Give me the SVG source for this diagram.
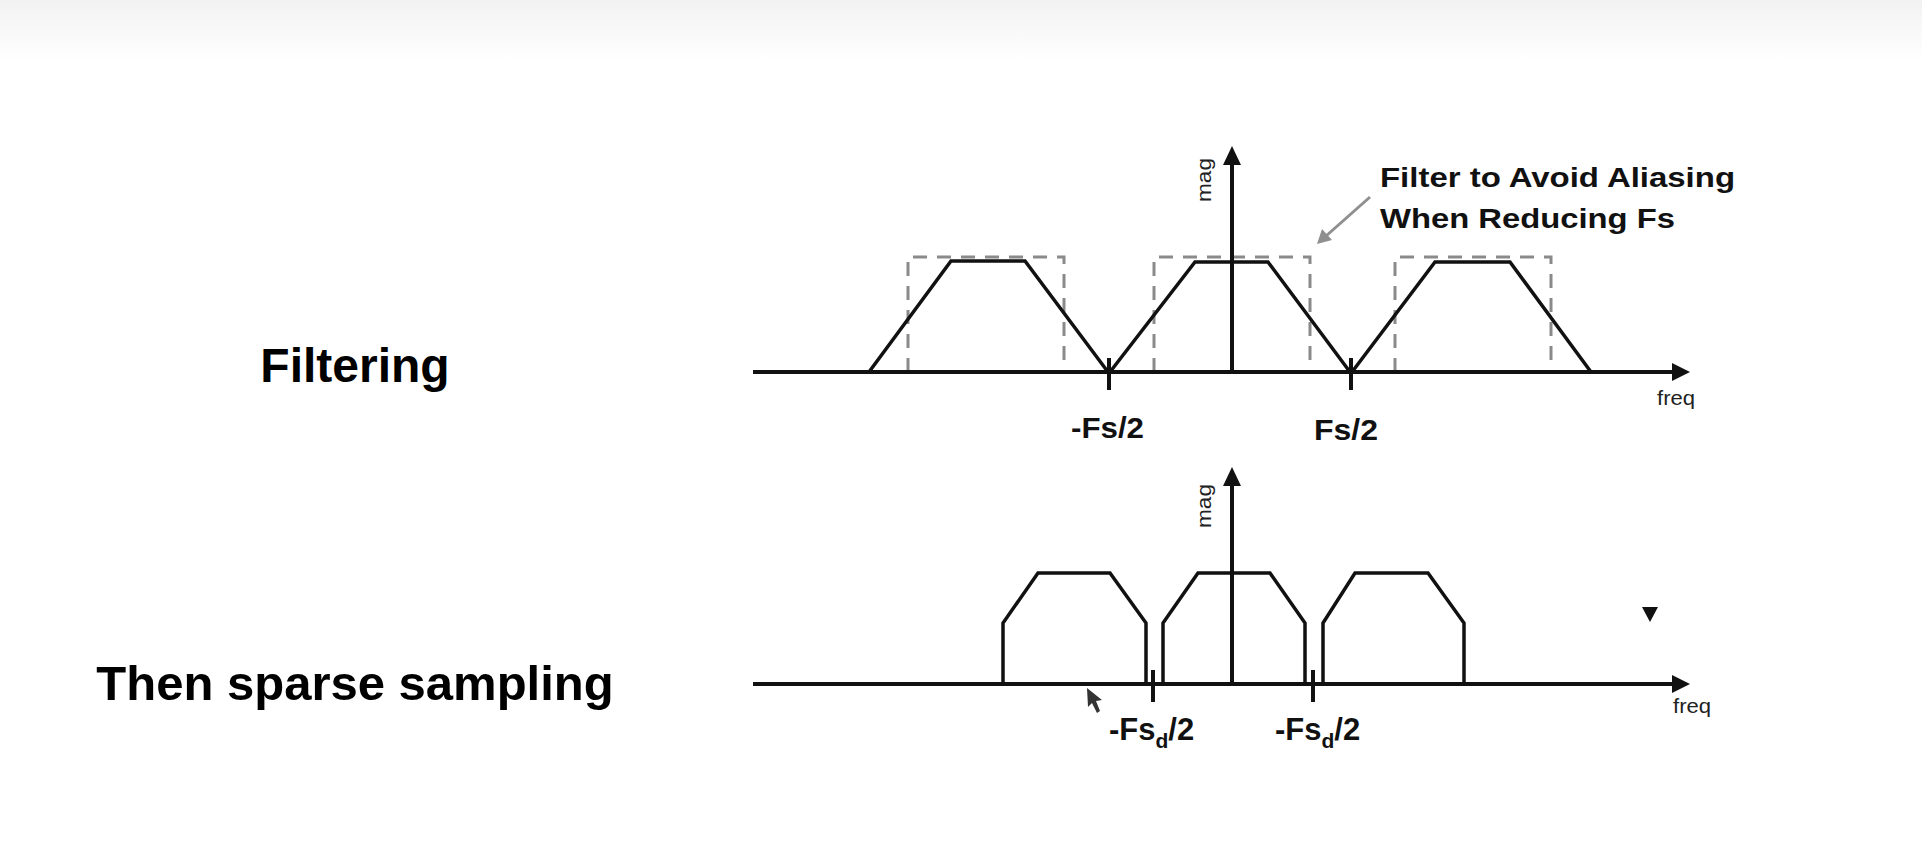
<svg xmlns="http://www.w3.org/2000/svg" width="1922" height="867" viewBox="0 0 1922 867">
<defs>
<linearGradient id="topband" x1="0" y1="0" x2="0" y2="1">
<stop offset="0" stop-color="#f2f2f2"/>
<stop offset="1" stop-color="#ffffff"/>
</linearGradient>
<style>
.axis{stroke:#111;stroke-width:4;fill:none}
.tick{stroke:#111;stroke-width:4;fill:none}
.curve{stroke:#111;stroke-width:3.5;fill:none;stroke-linejoin:miter}
.dash{stroke:#8a8a8a;stroke-width:3;fill:none;stroke-dasharray:14 10}
.head{fill:#111}
.big{font-family:"Liberation Sans",Arial,sans-serif;font-weight:bold;fill:#000}
.lbl{font-family:"Liberation Sans",Arial,sans-serif;font-weight:bold;fill:#111}
.ann{font-family:"Liberation Sans",Arial,sans-serif;font-weight:bold;font-size:28px;fill:#111}
.small{font-family:"Liberation Sans",Arial,sans-serif;font-size:20px;fill:#222}
</style>
</defs>
<rect x="0" y="0" width="1922" height="867" fill="#ffffff"/>
<rect x="0" y="0" width="1922" height="60" fill="url(#topband)"/>

<g id="title-filtering">
<text class="big" x="355" y="382" text-anchor="middle" font-size="48">Filtering</text>
</g>
<g id="title-sparse">
<text class="big" x="355" y="700" text-anchor="middle" font-size="49">Then sparse sampling</text>
</g>

<g id="top-plot">
<path class="dash" d="M908 372 V257 H1064 V372"/>
<path class="dash" d="M1154 372 V257 H1310 V372"/>
<path class="dash" d="M1395 372 V257 H1551 V372"/>
<path class="curve" d="M869 372 L951 261 H1025 L1108 372"/>
<path class="curve" d="M1110 372 L1195 262 H1268 L1350 372"/>
<path class="curve" d="M1352 372 L1435 262 H1510 L1591 372"/>
<line class="axis" x1="753" y1="372" x2="1676" y2="372"/>
<polygon class="head" points="1690,372 1672,363 1672,381"/>
<line class="axis" x1="1232" y1="372" x2="1232" y2="162"/>
<polygon class="head" points="1232,146 1223,165 1241,165"/>
<line class="tick" x1="1109" y1="358" x2="1109" y2="390"/>
<line class="tick" x1="1351" y1="358" x2="1351" y2="390"/>
<text class="small" transform="translate(1211,202) rotate(-90)" textLength="44" lengthAdjust="spacingAndGlyphs">mag</text>
<text class="small" x="1657" y="405" textLength="38" lengthAdjust="spacingAndGlyphs">freq</text>
<text class="lbl" x="1071" y="438" font-size="30" textLength="73" lengthAdjust="spacingAndGlyphs">-Fs/2</text>
<text class="lbl" x="1314" y="440" font-size="30" textLength="64" lengthAdjust="spacingAndGlyphs">Fs/2</text>
</g>

<g id="annotation">
<text class="ann" x="1380" y="187" textLength="355" lengthAdjust="spacingAndGlyphs">Filter to Avoid Aliasing</text>
<text class="ann" x="1380" y="228" textLength="295" lengthAdjust="spacingAndGlyphs">When Reducing Fs</text>
</g>

<g id="connectors">
<line x1="1370" y1="197" x2="1326" y2="236" stroke="#8f8f8f" stroke-width="3"/>
<polygon points="1317,244 1322,229 1332,240" fill="#8f8f8f"/>
</g>

<g id="bottom-plot">
<path class="curve" d="M1003 684 V623 L1038 573 H1110 L1146 623 V684"/>
<path class="curve" d="M1163 684 V623 L1198 573 H1270 L1305 623 V684"/>
<path class="curve" d="M1323 684 V623 L1355 573 H1428 L1464 623 V684"/>
<line class="axis" x1="753" y1="684" x2="1676" y2="684"/>
<polygon class="head" points="1690,684 1672,675 1672,693"/>
<line class="axis" x1="1232" y1="684" x2="1232" y2="483"/>
<polygon class="head" points="1232,467 1223,486 1241,486"/>
<line class="tick" x1="1153" y1="670" x2="1153" y2="702"/>
<line class="tick" x1="1313" y1="670" x2="1313" y2="702"/>
<text class="small" transform="translate(1211,528) rotate(-90)" textLength="44" lengthAdjust="spacingAndGlyphs">mag</text>
<text class="small" x="1673" y="713" textLength="38" lengthAdjust="spacingAndGlyphs">freq</text>
<text class="lbl" x="1109" y="740" font-size="31">-Fs<tspan font-size="21" dy="8">d</tspan><tspan dy="-8">/2</tspan></text>
<text class="lbl" x="1275" y="740" font-size="31">-Fs<tspan font-size="21" dy="8">d</tspan><tspan dy="-8">/2</tspan></text>
</g>

<g id="screen-marks">
<path d="M1087 688 L1088 707 L1092 703 L1097 713 L1100 711 L1096 701 L1102 700 Z" fill="#333"/>
<polygon points="1642,607 1658,607 1650,622" fill="#111"/>
</g>
</svg>
